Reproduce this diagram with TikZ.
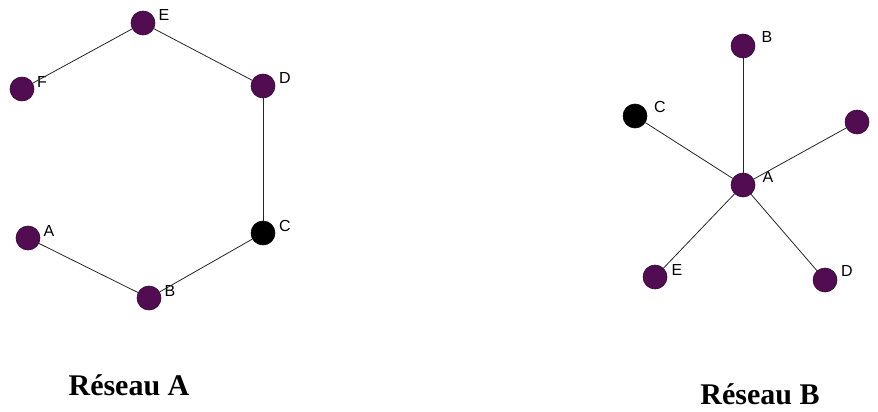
\documentclass[tikz,border=0pt]{standalone}
\usepackage{fontspec}
\setmainfont{Liberation Serif}
\setsansfont{Liberation Sans}
\definecolor{prune}{RGB}{82,12,82}

\begin{document}
\begin{tikzpicture}[x=1pt, y=-1pt, line cap=round, line join=round]

    % Styles des sommets, liens et etiquettes
    \tikzset{sommet/.style={circle, fill=prune, draw=prune!60!black, line width=0.6pt, minimum size=24pt, inner sep=0pt}}
    \tikzset{noir/.style={sommet, fill=black, draw=black}}
    \tikzset{lien/.style={draw=black!85, line width=0.8pt}}
    \tikzset{etiq/.style={font=\sffamily\fontsize{16}{16}\selectfont}}
    \tikzset{titre/.style={font=\bfseries\fontsize{30}{30}\selectfont, anchor=base, inner sep=0pt}}

    \useasboundingbox (0,0) rectangle (878,412);

    % --- Reseau A (anneau ouvert) ---
    \node[sommet, label={[etiq,xshift=21,yshift=8]center:E}] (aE) at (143, 23) {};
    \node[sommet, label={[etiq,xshift=22,yshift=8]center:D}] (aD) at (263, 86) {};
    \node[sommet, label={[etiq,xshift=20,yshift=7]center:F}] (aF) at (22, 89) {};
    \node[noir,   label={[etiq,xshift=22,yshift=7]center:C}] (aC) at (263, 233) {};
    \node[sommet, label={[etiq,xshift=21,yshift=7]center:A}] (aA) at (28, 238) {};
    \node[sommet, label={[etiq,xshift=21,yshift=7]center:B}] (aB) at (149, 298) {};

    \draw[lien] (aF) -- (aE);
    \draw[lien] (aE) -- (aD);
    \draw[lien] (aD) -- (aC);
    \draw[lien] (aC) -- (aB);
    \draw[lien] (aB) -- (aA);

    \node[titre] (titreA) at (129, 395) {Réseau A};

    % --- Reseau B (etoile) ---
    \node[sommet, label={[etiq,xshift=24,yshift=9]center:B}] (bB) at (743, 46) {};
    \node[noir,   label={[etiq,xshift=25,yshift=9]center:C}] (bC) at (635, 116) {};
    \node[sommet, label={[etiq,xshift=25,yshift=9]center:F}] (bF) at (857, 122) {};
    \node[sommet, label={[etiq,xshift=25,yshift=8]center:A}] (bA) at (743, 185) {};
    \node[sommet, label={[etiq,xshift=22,yshift=7]center:E}] (bE) at (655, 277) {};
    \node[sommet, label={[etiq,xshift=22,yshift=9]center:D}] (bD) at (825, 280) {};

    \foreach \v in {bB, bC, bF, bE, bD}
        \draw[lien] (bA) -- (\v);

    \node[titre] (titreB) at (760, 404) {Réseau B};

\end{tikzpicture}
\end{document}
